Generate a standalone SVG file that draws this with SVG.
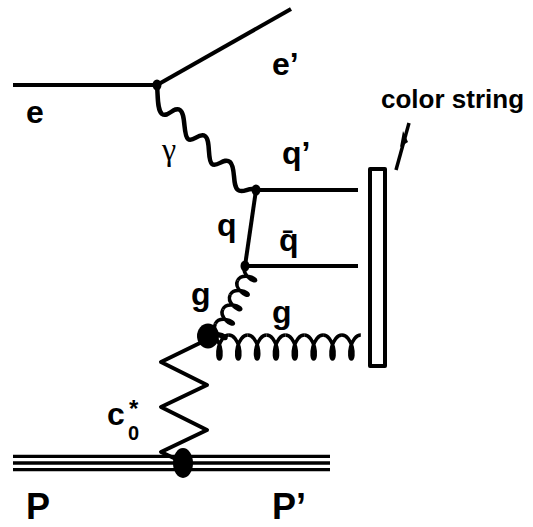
<svg xmlns="http://www.w3.org/2000/svg" xmlns:xlink="http://www.w3.org/1999/xlink" width="533" height="527" viewBox="0 0 533 527">
<style>
.ln{fill:none;stroke:#000;stroke-width:4;stroke-linejoin:round;stroke-linecap:butt}
.pl{fill:none;stroke:#000;stroke-width:3.3}
.gl{fill:none;stroke:#000;stroke-width:3.5}
.dot{fill:#000}
.lb{font-family:"Liberation Sans",Arial,sans-serif;font-weight:bold;fill:#000}
</style>
<defs>
<path id="gh" d="M0,-12 C4.7,-12 8.56,-6.6 10.21,0 C11.86,6.6 10.82,12 9.42,12 C8.02,12 6.99,6.6 8.64,0 C10.29,-6.6 14.15,-12 18.85,-12"/>
<path id="gd" d="M0,-8 C3.9,-8 7.13,-4.4 8.55,0 C9.97,4.4 9.16,8 8.1,8 C7.04,8 6.23,4.4 7.65,0 C9.07,-4.4 12.3,-8 16.2,-8"/>
</defs>
<rect width="533" height="527" fill="#fff"/>
<g id="connectors">
<line class="ln" x1="13" y1="85" x2="157" y2="85"/>
<line class="ln" x1="157" y1="85" x2="291" y2="9"/>
<path class="ln" style="stroke-width:4.5" d="M157,85 C158,95 157,110 162,114 C168,118 174,106 180,110 C186,114 183,135 188,139 C193,143 199,132 205,136 C211,140 207,160 212,164 C217,168 224,157 230,162 C236,167 232,186 238,190 C243,194 250,186 256,190"/>
<line class="ln" x1="256" y1="190" x2="358" y2="190"/>
<line class="ln" x1="256" y1="190" x2="245" y2="266"/>
<line class="ln" x1="245" y1="266" x2="358" y2="266"/>
<g class="gl" transform="translate(208,338) rotate(-62.8) translate(0,8)">
<use xlink:href="#gd" x="0"/>
<use xlink:href="#gd" x="16.2"/>
<use xlink:href="#gd" x="32.4"/>
<use xlink:href="#gd" x="48.6"/>
<use xlink:href="#gd" x="64.8"/>
</g>
<g class="gl" transform="translate(210,347)">
<use xlink:href="#gh" x="0"/>
<use xlink:href="#gh" x="18.85"/>
<use xlink:href="#gh" x="37.7"/>
<use xlink:href="#gh" x="56.55"/>
<use xlink:href="#gh" x="75.4"/>
<use xlink:href="#gh" x="94.25"/>
<use xlink:href="#gh" x="113.1"/>
<use xlink:href="#gh" x="131.95"/>
</g>
<path class="ln" d="M202,342 L161,362 L207,385 L161,407 L207,430 L161,452 L178,460"/>
<line class="pl" x1="13" y1="456.3" x2="330" y2="456.3"/>
<line class="pl" x1="13" y1="463" x2="330" y2="463"/>
<line class="pl" x1="13" y1="469.7" x2="330" y2="469.7"/>
<line class="ln" x1="409" y1="123" x2="396" y2="170" style="stroke-width:3.5"/>
<polygon class="dot" points="403,131 408,142 400,147"/>
</g>
<g id="string"><rect class="ln" x="370" y="169" width="15" height="197"/></g>
<g id="v1"><ellipse class="dot" cx="157" cy="85" rx="4.5" ry="5.5"/></g>
<g id="v2"><ellipse class="dot" cx="256" cy="190" rx="4.5" ry="5.5"/></g>
<g id="v3"><ellipse class="dot" cx="245" cy="266" rx="4.5" ry="5.5"/></g>
<g id="blob"><ellipse class="dot" cx="208" cy="336" rx="11" ry="12.5"/></g>
<g id="pdot"><ellipse class="dot" cx="183" cy="463" rx="10" ry="15"/></g>
<g id="labels">
<text class="lb" x="26" y="123" font-size="32">e</text>
<text class="lb" x="272" y="75" font-size="32">e’</text>
<text x="162" y="160" font-size="32" font-family="Liberation Serif,serif">γ</text>
<text class="lb" x="282" y="164" font-size="32">q’</text>
<text class="lb" x="217" y="236" font-size="32">q</text>
<text class="lb" x="279" y="251" font-size="32">q̄</text>
<text class="lb" x="191" y="305" font-size="32">g</text>
<text class="lb" x="272" y="323" font-size="32">g</text>
<text class="lb" x="107" y="425" font-size="32">c</text>
<text class="lb" x="128" y="440" font-size="20">0</text>
<text class="lb" x="129" y="417" font-size="24">*</text>
<text class="lb" x="26" y="519" font-size="36">P</text>
<text class="lb" x="272" y="519" font-size="36">P’</text>
<text class="lb" x="381" y="108" font-size="26">color string</text>
</g>
</svg>
